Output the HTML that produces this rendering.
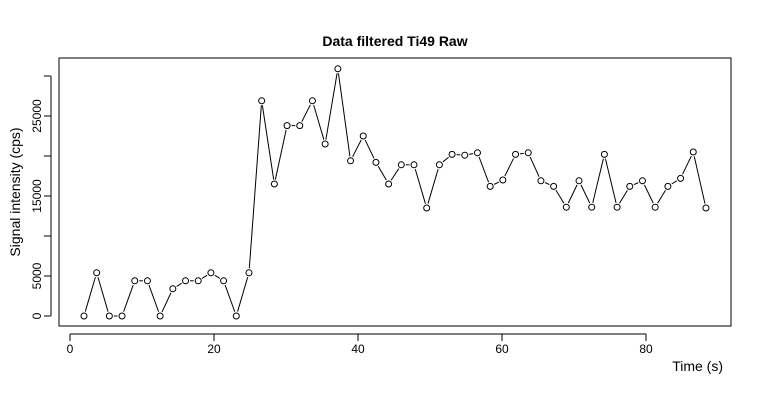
<!DOCTYPE html>
<html><head><meta charset="utf-8"><style>
body{margin:0;background:#fff;font-family:"Liberation Sans",sans-serif}
</style></head><body>
<svg id="c" width="760" height="400" viewBox="0 0 760 400" font-family="Liberation Sans, sans-serif">
<text x="395" y="46" text-anchor="middle" font-weight="bold" font-size="14">Data filtered Ti49 Raw</text>
<rect x="59" y="58" width="672" height="268" fill="none" stroke="#000"/>
<text x="723" y="371" text-anchor="end" font-size="14">Time (s)</text>
<text transform="translate(20,192) rotate(-90)" text-anchor="middle" font-size="14">Signal intensity (cps)</text>
<g id="ax"></g><g id="marks"></g>
</svg>
<script>
const values=[0,5400,0,0,4400,4400,0,3400,4400,4400,5400,4400,0,5400,26900,16500,23800,23800,26900,21500,30900,19400,22500,19200,16500,18900,18900,13500,18900,20200,20100,20400,16200,17000,20200,20400,16900,16200,13600,16900,13600,20200,13600,16200,16900,13600,16200,17200,20500,13500];
const t0=1.94, dt=1.763;
const times=values.map((v,i)=>t0+i*dt);
const xTicks=[0,20,40,60,80];
const yTicks=[0,5000,10000,15000,20000,25000,30000];
const yLabels=["0","5000","","15000","","25000",""];
const X=t=>70+t*7.2, Y=v=>316-v*0.008;
const NS="http://www.w3.org/2000/svg";
const ax=document.getElementById('ax'), mk=document.getElementById('marks');
function el(tag,attrs,parent){const e=document.createElementNS(NS,tag);for(const k in attrs)e.setAttribute(k,attrs[k]);parent.appendChild(e);return e;}
let l=el('line',{x1:X(0),x2:X(80),y1:334,y2:334,stroke:'#000'},ax);


xTicks.forEach(t=>{
 const k=el('line',{x1:X(t),x2:X(t),y1:334,y2:341,stroke:'#000'},ax);
 
 
 const tx=el('text',{x:X(t),y:353,'text-anchor':'middle','font-size':12},ax);
 tx.textContent=t;
 
 
});
l=el('line',{x1:51,x2:51,y1:Y(0),y2:Y(30000),stroke:'#000'},ax);


yTicks.forEach((v,i)=>{
 const k=el('line',{x1:44,x2:51,y1:Y(v),y2:Y(v),stroke:'#000'},ax);
 
 
 if(yLabels[i]){
  const tx=el('text',{transform:`translate(41,${Y(v)}) rotate(-90)`,'text-anchor':'middle','font-size':12},ax);
  tx.textContent=yLabels[i];
  
  
 }
});
const r=3, gap=4.5;
for(let i=0;i<values.length-1;i++){
 const x1=X(times[i]),y1=Y(values[i]),x2=X(times[i+1]),y2=Y(values[i+1]);
 const d=Math.hypot(x2-x1,y2-y1); if(d<=2*gap)continue;
 const ux=(x2-x1)/d,uy=(y2-y1)/d;
 const s=el('line',{x1:x1+ux*gap,y1:y1+uy*gap,x2:x2-ux*gap,y2:y2-uy*gap,stroke:'#000','stroke-width':1},mk);
 
 
}
values.forEach((v,i)=>{
 const c=el('circle',{cx:X(times[i]),cy:Y(v),r:r,fill:'none',stroke:'#000','stroke-width':1},mk);
 
 
});
</script>
</body></html>
